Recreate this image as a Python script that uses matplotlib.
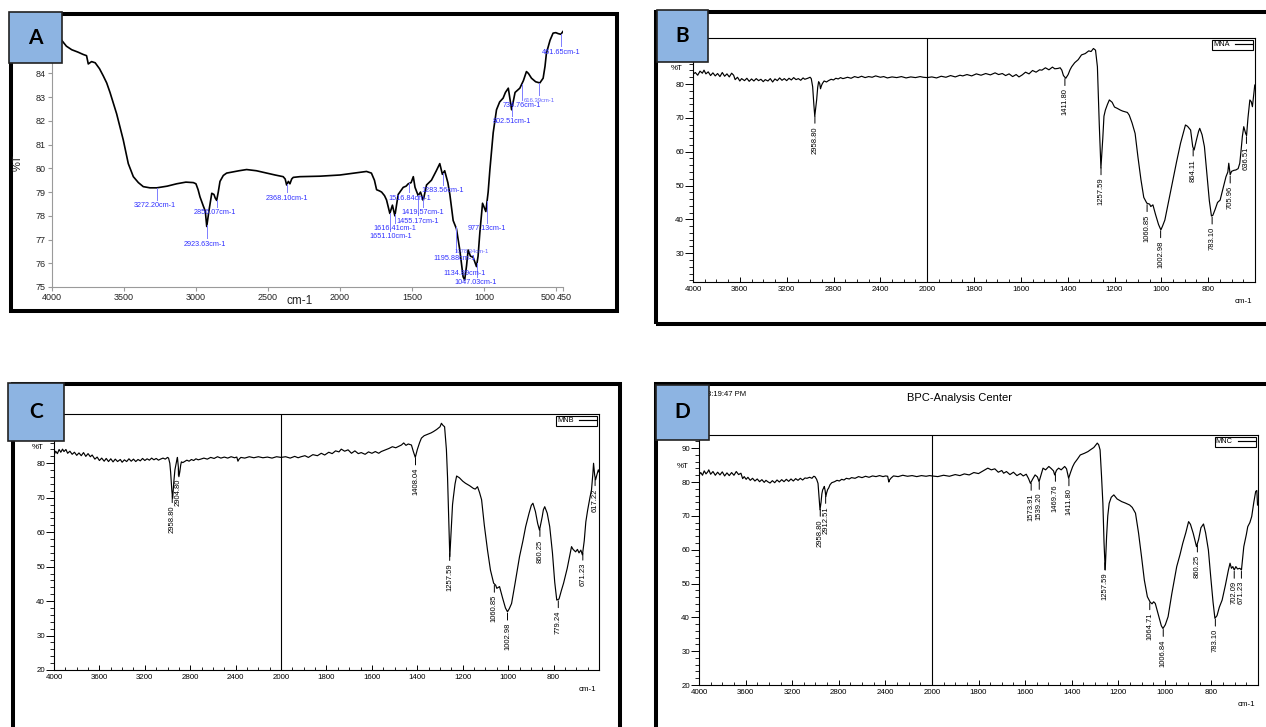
import numpy as np
import matplotlib.pyplot as plt
import matplotlib.transforms as mtransforms
from matplotlib.patches import Rectangle
from matplotlib.ticker import FixedLocator, FuncFormatter

plt.rcParams['font.family'] = ['Liberation Sans', 'DejaVu Sans']

# ---------------- data ----------------
# panel A
a_wn = [4000, 3960, 3933, 3900, 3863, 3820, 3783, 3760, 3748, 3725,
        3700, 3670, 3644, 3620, 3597, 3551, 3505, 3470, 3435, 3400,
        3366, 3320, 3272, 3200, 3134, 3070, 3018, 3000, 2985, 2972,
        2948, 2935, 2925, 2910, 2890, 2875, 2866, 2856, 2845, 2833,
        2810, 2787, 2700, 2648, 2580, 2509, 2450, 2394, 2380, 2370,
        2358, 2347, 2335, 2324, 2278, 2200, 2139, 2000, 1900, 1815,
        1781, 1760, 1745, 1725, 1710, 1690, 1676, 1653, 1635, 1618,
        1595, 1560, 1540, 1525, 1505, 1490, 1478, 1456, 1440, 1421,
        1398, 1364, 1330, 1306, 1288, 1272, 1250, 1236, 1213, 1190,
        1167, 1144, 1133, 1120, 1109, 1093, 1074, 1051, 1040, 1028,
        1009, 986, 970, 958, 935, 912, 890, 866, 850, 830,
        807, 783, 750, 725, 704, 690, 669, 640, 611, 588,
        575, 565, 540, 519, 500, 484, 465, 450]
a_t = [85.8, 85.55, 85.4, 85.15, 85.0, 84.9, 84.8, 84.75, 84.4, 84.5,
       84.45, 84.2, 83.9, 83.6, 83.2, 82.3, 81.2, 80.2, 79.65, 79.4,
       79.23, 79.18, 79.18, 79.25, 79.35, 79.42, 79.4, 79.35, 79.1, 78.8,
       78.4, 78.2, 77.55, 78.2, 78.95, 78.9, 78.75, 78.65, 79.0, 79.45,
       79.7, 79.8, 79.9, 79.95, 79.9, 79.8, 79.72, 79.65, 79.55, 79.3,
       79.45, 79.35, 79.55, 79.62, 79.65, 79.66, 79.67, 79.72, 79.8, 79.87,
       79.8, 79.5, 79.1, 79.05, 79.0, 78.85, 78.67, 78.1, 78.45, 78.0,
       78.9, 79.2, 79.25, 79.35, 79.4, 79.65, 79.2, 78.85, 79.0, 78.65,
       79.3, 79.5, 79.9, 80.2, 79.75, 79.9, 79.4, 78.9, 77.8, 77.45,
       76.56, 75.43, 75.3, 75.9, 76.56, 76.3, 76.25, 75.86, 76.3, 77.27,
       78.53, 78.18, 79.0, 79.94, 81.5, 82.47, 82.8, 82.96, 83.2, 83.38,
       82.47, 83.2, 83.38, 83.7, 84.08, 84.0, 83.8, 83.65, 83.6, 83.8,
       84.3, 84.86, 85.4, 85.7, 85.72, 85.68, 85.65, 85.77]

a_labels = ["3272.20cm-1", "2856.07cm-1", "2923.63cm-1", "2368.10cm-1",
            "1516.84cm-1", "1419.57cm-1", "1455.17cm-1", "1616.41cm-1",
            "1651.10cm-1", "1283.56cm-1", "977.13cm-1", "1078.34cm-1",
            "1195.88cm-1", "1134.89cm-1", "1047.03cm-1", "802.51cm-1",
            "734.76cm-1", "616.39cm-1", "461.65cm-1"]
a_label_wn = [3272.20, 2856.07, 2923.63, 2368.10, 1516.84, 1419.57, 1455.17,
              1616.41, 1651.10, 1283.56, 977.13, 1078.34, 1195.88, 1134.89,
              1047.03, 802.51, 734.76, 616.39, 461.65]
# where each blue label text sits (centre x in cm-1, y in %T)
a_label_tx = [3285, 2868, 2937, 2368, 1514, 1424, 1458, 1618, 1646, 1285,
              979, 1083, 1201, 1132, 1056, 806, 736, 618, 465]
a_label_ty = [78.42, 78.12, 76.81, 78.75, 78.75, 78.12, 77.78, 77.45, 77.11,
              79.05, 77.45, 76.48, 76.22, 75.59, 75.17, 81.96, 82.64, 82.85,
              84.9]

# panel B (MNA)
b_wn = [4000, 3980, 3960, 3940, 3920, 3906, 3890, 3870, 3850, 3830,
        3810, 3790, 3770, 3750, 3730, 3710, 3690, 3670, 3653, 3640,
        3620, 3600, 3585, 3560, 3540, 3520, 3500, 3480, 3460, 3440,
        3420, 3400, 3383, 3360, 3340, 3320, 3300, 3280, 3260, 3240,
        3220, 3200, 3180, 3160, 3140, 3120, 3100, 3080, 3060, 3045,
        3020, 3000, 2990, 2978, 2968, 2960, 2952, 2944, 2935, 2927,
        2918, 2911, 2902, 2894, 2880, 2860, 2843, 2820, 2800, 2780,
        2760, 2740, 2720, 2708, 2680, 2650, 2620, 2590, 2560, 2530,
        2500, 2470, 2440, 2400, 2371, 2340, 2300, 2260, 2220, 2180,
        2140, 2100, 2060, 2034, 2000, 1980, 1960, 1940, 1920, 1900,
        1880, 1860, 1848, 1830, 1810, 1790, 1770, 1750, 1730, 1710,
        1695, 1679, 1665, 1650, 1635, 1620, 1608, 1594, 1580, 1565,
        1550, 1535, 1520, 1510, 1495, 1480, 1465, 1455, 1442, 1432,
        1425, 1418, 1408, 1398, 1390, 1383, 1370, 1355, 1341, 1325,
        1310, 1300, 1290, 1281, 1273, 1265, 1258, 1250, 1245, 1239,
        1230, 1222, 1210, 1200, 1188, 1175, 1165, 1155, 1145, 1137,
        1125, 1112, 1100, 1087, 1075, 1062, 1050, 1045, 1036, 1025,
        1012, 1002, 995, 985, 970, 951, 935, 918, 905, 897,
        888, 875, 866, 860, 850, 841, 836, 826, 816, 805,
        795, 786, 780, 770, 760, 749, 735, 724, 716, 712,
        706, 700, 690, 682, 672, 665, 660, 654, 648, 640,
        636, 630, 622, 616, 611, 606, 601]
b_t = [82.9, 83.4, 82.6, 83.8, 83.2, 84.1, 83.0, 83.6, 82.5, 83.3,
       82.4, 83.1, 82.2, 83.4, 82.3, 83.0, 82.1, 83.2, 82.6, 81.3,
       82.0, 80.9, 81.6, 81.0, 81.7, 80.8, 81.5, 80.9, 81.6, 81.0,
       81.4, 80.7, 81.3, 80.9, 81.6, 80.6, 81.5, 81.0, 81.8, 81.1,
       81.6, 81.0, 81.7, 81.2, 81.9, 81.3, 81.6, 81.1, 81.8, 81.4,
       81.7, 82.0, 81.6, 79.2, 74.0, 70.5, 73.0, 75.3, 79.0, 80.7,
       80.2, 78.6, 79.6, 80.2, 80.9, 80.6, 81.0, 81.4, 81.2, 81.7,
       81.5, 81.9, 81.6, 81.7, 82.0, 81.7, 82.2, 81.9, 82.3, 81.9,
       82.2, 82.0, 82.4, 82.0, 82.2, 81.8, 82.1, 81.9, 82.2, 81.8,
       82.1, 81.9, 82.2, 82.0, 81.9, 82.1, 81.8, 82.3, 82.0, 82.5,
       82.1, 82.6, 82.4, 82.8, 82.4, 83.0, 82.6, 83.1, 82.7, 83.3,
       82.8, 83.1, 82.5, 83.0, 82.2, 82.8, 82.1, 82.7, 83.5, 83.0,
       84.0, 83.5, 84.2, 84.1, 84.8, 84.2, 85.0, 84.5, 84.6, 84.8,
       84.1, 82.5, 81.7, 82.8, 84.2, 85.1, 86.3, 87.2, 88.6, 89.0,
       89.8, 89.6, 90.5, 90.0, 85.1, 68.0, 55.2, 64.0, 70.5, 72.3,
       74.0, 75.3, 74.6, 73.2, 72.8, 72.3, 72.0, 71.8, 71.6, 70.8,
       68.5, 65.4, 58.5, 51.7, 46.5, 44.8, 44.5, 43.8, 44.3, 41.5,
       38.5, 36.9, 38.0, 39.8, 45.0, 51.7, 57.0, 62.5, 65.8, 67.9,
       67.5, 66.4, 61.5, 60.5, 63.5, 66.0, 66.9, 65.0, 61.5, 53.0,
       45.5, 41.0, 41.2, 43.0, 45.0, 45.7, 49.5, 52.6, 54.0, 56.6,
       53.2, 54.2, 54.5, 54.6, 55.0, 56.6, 60.0, 64.5, 67.4, 65.4,
       64.8, 70.0, 75.3, 74.8, 73.3, 76.5, 79.7]
b_peaks = [2958.80, 1411.80, 1257.59, 1060.85, 1002.98, 864.11, 783.10,
           705.96, 636.51]

# panel C (MNB)
c_wn = [4000, 3985, 3970, 3955, 3940, 3925, 3912, 3895, 3880, 3860,
        3840, 3820, 3800, 3780, 3760, 3740, 3720, 3700, 3680, 3664,
        3640, 3620, 3600, 3580, 3558, 3540, 3520, 3500, 3480, 3460,
        3440, 3416, 3400, 3380, 3360, 3340, 3320, 3300, 3280, 3260,
        3240, 3220, 3200, 3180, 3160, 3140, 3120, 3100, 3080, 3062,
        3040, 3020, 3000, 2991, 2980, 2973, 2962, 2955, 2945, 2935,
        2927, 2918, 2913, 2905, 2900, 2892, 2884, 2878, 2865, 2850,
        2830, 2810, 2790, 2770, 2750, 2730, 2708, 2680, 2650, 2620,
        2590, 2560, 2530, 2500, 2470, 2440, 2410, 2390, 2380, 2370,
        2354, 2320, 2280, 2240, 2200, 2160, 2120, 2080, 2040, 2000,
        1980, 1960, 1940, 1925, 1912, 1895, 1880, 1860, 1840, 1823,
        1808, 1790, 1775, 1760, 1745, 1735, 1720, 1705, 1690, 1675,
        1660, 1647, 1630, 1615, 1600, 1585, 1570, 1559, 1540, 1525,
        1510, 1495, 1480, 1470, 1460, 1450, 1440, 1426, 1418, 1409,
        1400, 1390, 1382, 1370, 1355, 1340, 1329, 1315, 1300, 1294,
        1287, 1280, 1272, 1267, 1262, 1257, 1250, 1245, 1241, 1234,
        1227, 1215, 1200, 1188, 1170, 1153, 1145, 1135, 1126, 1117,
        1105, 1091, 1078, 1064, 1055, 1050, 1038, 1025, 1012, 1003,
        995, 985, 970, 950, 935, 923, 908, 898, 891, 880,
        870, 862, 850, 845, 839, 828, 817, 805, 795, 786,
        776, 766, 756, 740, 728, 721, 714, 703, 695, 688,
        680, 673, 665, 658, 650, 640, 633, 627, 624, 619,
        615, 610, 603, 600]
c_t = [82.4, 83.5, 82.8, 84.0, 83.2, 84.1, 83.4, 84.0, 82.9, 83.5,
       82.6, 83.2, 82.3, 83.0, 82.2, 83.1, 82.0, 82.8, 81.9, 82.4,
       81.2, 81.8, 80.8, 81.5, 80.6, 81.4, 80.5, 81.3, 80.4, 81.2,
       80.5, 81.1, 80.3, 81.0, 80.5, 81.3, 80.6, 81.2, 80.5, 81.1,
       80.7, 81.4, 80.8, 81.3, 80.9, 81.5, 81.0, 81.4, 80.9, 81.2,
       81.5, 81.2, 81.7, 81.5, 80.0, 77.5, 72.0, 69.8, 74.5, 78.1,
       79.5, 81.0, 81.7, 79.0, 76.1, 77.5, 79.5, 80.4, 80.2, 80.5,
       80.9, 80.6, 81.1, 80.8, 81.3, 81.0, 81.2, 81.5, 81.2, 81.7,
       81.4, 81.9, 81.5, 81.8, 81.5, 81.9, 81.6, 81.8, 80.6, 81.2,
       81.7, 81.5, 81.9, 81.6, 81.9, 81.6, 81.8, 81.5, 81.9, 81.7,
       81.9, 81.5, 82.0, 81.6, 81.9, 82.2, 81.7, 82.5, 82.2, 82.9,
       82.4, 83.2, 82.8, 83.6, 83.3, 84.1, 83.5, 83.9, 82.9, 83.6,
       82.8, 83.1, 82.6, 83.3, 82.9, 83.4, 82.9, 83.4, 83.9, 84.3,
       84.8, 84.5, 85.0, 85.3, 85.9, 85.2, 85.6, 85.3, 83.5, 81.7,
       84.0, 86.0, 87.3, 88.0, 88.4, 88.8, 89.2, 89.8, 90.6, 91.6,
       91.0, 90.6, 84.0, 76.0, 64.0, 52.9, 62.0, 68.0, 70.3, 74.0,
       76.3, 75.8, 74.8, 74.2, 73.5, 72.7, 72.5, 73.2, 71.5, 69.4,
       62.0, 54.8, 49.0, 45.2, 44.6, 43.7, 44.2, 41.0, 38.0, 36.9,
       37.8, 39.3, 45.0, 52.9, 57.5, 61.6, 65.5, 67.8, 68.4, 66.0,
       62.5, 60.6, 64.5, 66.5, 67.4, 65.5, 61.6, 54.0, 45.5, 40.3,
       40.6, 43.0, 45.2, 49.5, 53.5, 55.8, 55.0, 54.3, 55.0, 54.0,
       54.8, 53.4, 57.5, 63.0, 66.4, 70.0, 72.3, 77.0, 80.0, 76.5,
       75.2, 76.5, 78.1, 77.5]
c_peaks = [2958.80, 2904.80, 1408.04, 1257.59, 1060.85, 1002.98, 860.25,
           779.24, 671.23, 617.22]

# panel D (MNC)
d_wn = [4000, 3985, 3970, 3955, 3940, 3925, 3916, 3900, 3880, 3860,
        3840, 3820, 3800, 3780, 3760, 3740, 3720, 3700, 3680, 3660,
        3640, 3625, 3612, 3595, 3580, 3560, 3540, 3520, 3500, 3480,
        3460, 3440, 3425, 3410, 3390, 3370, 3350, 3330, 3310, 3290,
        3270, 3250, 3230, 3210, 3190, 3170, 3150, 3130, 3110, 3090,
        3073, 3050, 3030, 3015, 3005, 2990, 2978, 2968, 2961, 2952,
        2945, 2938, 2930, 2924, 2917, 2911, 2904, 2895, 2887, 2875,
        2860, 2836, 2815, 2795, 2775, 2755, 2735, 2710, 2690, 2660,
        2630, 2600, 2570, 2540, 2510, 2480, 2450, 2420, 2398, 2380,
        2370, 2364, 2350, 2330, 2290, 2250, 2210, 2170, 2130, 2090,
        2050, 2020, 2000, 1975, 1950, 1925, 1900, 1880, 1861, 1840,
        1820, 1800, 1780, 1770, 1760, 1745, 1730, 1715, 1700, 1692,
        1680, 1665, 1650, 1635, 1620, 1608, 1595, 1585, 1577, 1568,
        1557, 1547, 1540, 1532, 1523, 1512, 1498, 1488, 1478, 1473,
        1465, 1456, 1445, 1430, 1422, 1413, 1405, 1396, 1388, 1375,
        1363, 1345, 1330, 1320, 1305, 1290, 1284, 1278, 1272, 1266,
        1261, 1256, 1250, 1245, 1239, 1230, 1219, 1205, 1185, 1170,
        1151, 1140, 1126, 1113, 1100, 1088, 1075, 1063, 1055, 1048,
        1041, 1025, 1015, 1008, 998, 986, 970, 949, 935, 923,
        910, 898, 890, 878, 870, 864, 855, 845, 834, 825,
        813, 803, 793, 785, 776, 766, 754, 740, 727, 720,
        714, 708, 702, 695, 688, 678, 671, 661, 650, 644,
        635, 627, 618, 610, 605, 602]
d_t = [82.1, 82.8, 82.0, 83.3, 82.4, 83.0, 83.6, 82.3, 83.1, 82.0,
       82.9, 82.1, 83.0, 81.8, 82.7, 81.9, 82.8, 82.0, 83.1, 82.2,
       82.6, 81.0, 81.6, 80.8, 81.4, 80.5, 81.1, 80.3, 80.9, 80.1,
       80.7, 79.9, 80.5, 80.1, 79.7, 80.4, 79.8, 80.6, 80.0, 80.7,
       80.1, 80.8, 80.2, 80.9, 80.3, 81.0, 80.5, 81.1, 80.6, 81.2,
       81.1, 81.4, 81.1, 81.7, 81.6, 80.8, 79.6, 75.0, 71.8, 74.0,
       76.5, 77.7, 78.2, 78.7, 77.5, 75.7, 76.8, 77.8, 78.2, 79.2,
       79.8, 80.1, 80.5, 80.3, 80.8, 80.6, 81.1, 80.9, 81.3, 81.1,
       81.6, 81.3, 81.7, 81.4, 81.8, 81.6, 81.9, 81.6, 81.8, 81.7,
       80.0, 80.6, 81.2, 81.8, 81.6, 82.0, 81.7, 81.9, 81.6, 81.9,
       81.7, 81.9, 81.8, 81.6, 82.0, 81.7, 82.2, 81.9, 82.4, 82.1,
       82.8, 82.5, 83.3, 83.7, 84.1, 83.6, 83.9, 82.9, 83.4, 82.6,
       83.1, 82.2, 82.9, 81.9, 82.5, 81.8, 82.3, 81.0, 79.6, 80.8,
       82.1, 81.5, 80.1, 82.0, 84.1, 83.6, 84.6, 84.0, 83.3, 82.1,
       83.5, 84.1, 83.6, 84.6, 83.9, 81.1, 82.8, 84.5, 85.6, 86.8,
       88.0, 88.5, 89.0, 89.5, 90.2, 91.5, 91.0, 89.5, 82.0, 73.7,
       62.0, 54.0, 64.0, 70.0, 73.7, 75.5, 76.2, 75.0, 74.2, 73.8,
       73.2, 72.5, 70.8, 65.0, 57.9, 51.0, 46.1, 44.5, 44.0, 44.6,
       44.1, 40.0, 37.5, 36.7, 37.8, 40.2, 47.0, 55.0, 58.5, 61.9,
       65.0, 68.3, 67.5, 64.8, 62.5, 60.9, 63.0, 66.5, 67.6, 65.0,
       59.9, 52.0, 44.5, 39.7, 40.5, 43.0, 45.1, 49.5, 54.0, 56.0,
       54.5, 55.0, 54.0, 55.0, 54.3, 54.5, 54.0, 60.9, 64.5, 66.8,
       68.0, 69.8, 74.0, 77.2, 77.5, 73.2]
d_peaks = [2958.80, 2912.51, 1573.91, 1539.20, 1469.76, 1411.80, 1257.59,
           1064.71, 1006.84, 860.25, 783.10, 702.09, 671.23]

# ---------------- layout helpers ----------------
W, H = 1266, 727
fig = plt.figure(figsize=(W / 100, H / 100), dpi=100)


def px_rect(x0, y0, x1, y1):
    return [x0 / W, 1 - y1 / H, (x1 - x0) / W, (y1 - y0) / H]


def frame(x0, y0, x1, y1, **kw):
    r = Rectangle((x0 / W, 1 - y1 / H), (x1 - x0) / W, (y1 - y0) / H,
                  transform=fig.transFigure, **kw)
    fig.add_artist(r)


def badge(x0, y0, x1, y1, letter):
    frame(x0, y0, x1, y1, facecolor="#8DB4E2", edgecolor="#222222",
          lw=1.2, zorder=20)
    fig.text((x0 + x1) / 2 / W, 1 - (y0 + y1) / 2 / H, letter,
             ha="center", va="center", fontsize=15, fontweight="bold",
             family=["Lato", "DejaVu Sans"], zorder=21)


# FTIR software style axis: 4000-2000 compressed, 2000-600 expanded
def split_fwd(x):
    x = np.asarray(x, dtype=float)
    return np.where(x >= 2000, 1000 + x / 2, x)


def split_inv(u):
    u = np.asarray(u, dtype=float)
    return np.where(u >= 2000, (u - 1000) * 2, u)


def spectrum_panel(rect, wn, t, ylim, name, peaks):
    ax = fig.add_axes(px_rect(*rect))
    ax.set_xscale("function", functions=(split_fwd, split_inv))
    ax.plot(wn, t, color="black", lw=0.85, label=name)
    ax.axvline(2000, color="black", lw=0.8)
    ax.set_xlim(4000, 600)
    ax.set_ylim(*ylim)

    ax.xaxis.set_major_locator(FixedLocator([4000, 3600, 3200, 2800, 2400, 2000,
                                             1800, 1600, 1400, 1200, 1000, 800]))
    ax.xaxis.set_minor_locator(FixedLocator(list(np.arange(2100, 4000, 100)) +
                                            list(np.arange(650, 2000, 50))))
    ax.xaxis.set_major_formatter(FuncFormatter(lambda v, p: f"{v:.0f}"))
    ax.xaxis.set_minor_formatter(FuncFormatter(lambda v, p: ""))
    ax.yaxis.set_major_locator(FixedLocator(np.arange(20, 91, 10)))
    ax.yaxis.set_minor_locator(FixedLocator(np.arange(20, 93, 2)))

    ax.tick_params(axis="x", which="both", direction="in", labelsize=5.7, pad=3)
    ax.tick_params(axis="x", which="major", length=3.5, width=0.7)
    ax.tick_params(axis="x", which="minor", length=2, width=0.6)
    ax.tick_params(axis="y", which="both", direction="out", labelsize=5.7, pad=1)
    ax.tick_params(axis="y", which="major", length=5.5, width=0.7)
    ax.tick_params(axis="y", which="minor", length=3, width=0.6)
    for sp in ax.spines.values():
        sp.set_linewidth(0.8)

    trans = mtransforms.blended_transform_factory(ax.transAxes, ax.transData)
    ax.annotate("%T", xy=(0, 84.7), xycoords=trans, xytext=(-12, 0),
                textcoords="offset points", ha="center", va="center", fontsize=5.7)
    ax.annotate("cm-1", xy=(1, 0), xycoords="axes fraction", xytext=(-2, -14),
                textcoords="offset points", ha="right", va="center", fontsize=5.7)

    leg = ax.legend(loc="upper right", markerfirst=False, fontsize=5.3,
                    handlelength=2.2, handletextpad=0.8, borderpad=0.15,
                    borderaxespad=0.3, fancybox=False, framealpha=1,
                    edgecolor="black")
    leg.get_frame().set_linewidth(0.8)

    wn_up, t_up = np.asarray(wn)[::-1], np.asarray(t)[::-1]
    for p in peaks:
        y = np.interp(p, wn_up, t_up)
        ax.annotate(f"{p:.2f}", xy=(p, y), xytext=(0, -8), textcoords="offset points",
                    rotation=90, ha="center", va="top", fontsize=5.5,
                    arrowprops=dict(arrowstyle="-", lw=0.7, color="black",
                                    shrinkA=0, shrinkB=1))
    return ax


# ---------------- panel frames ----------------
frame(11, 14, 617, 311, fill=False, lw=2.9, edgecolor="black")
frame(656, 12, 1300, 324, fill=False, lw=2.9, edgecolor="black")
frame(13, 384, 620, 760, fill=False, lw=2.9, edgecolor="black")
frame(656, 384, 1300, 760, fill=False, lw=2.9, edgecolor="black")

# ---------------- panel A ----------------
ax_a = fig.add_axes(px_rect(52, 26, 563, 287))
ax_a.plot(a_wn, a_t, color="black", lw=1.2)
ax_a.set_xlim(4000, 450)
ax_a.set_ylim(75, 86)
ax_a.set_yticks(np.arange(75, 85, 1))
ax_a.set_xticks([4000, 3500, 3000, 2500, 2000, 1500, 1000, 500, 450])
ax_a.spines["top"].set_visible(False)
ax_a.spines["right"].set_visible(False)
for s in ("left", "bottom"):
    ax_a.spines[s].set_color("#9a9a9a")
    ax_a.spines[s].set_linewidth(0.8)
ax_a.tick_params(which="both", direction="out", length=3, color="#9a9a9a",
                 labelsize=6.5, labelcolor="#222222", pad=1.5)
# "500" and "450" run together as "500450" in the original
xt_labels = ax_a.get_xticklabels()
xt_labels[-2].set_ha("right")
xt_labels[-1].set_ha("left")
xt_labels[-1].set_transform(xt_labels[-1].get_transform() +
                            mtransforms.ScaledTranslation(-6 / 100, 0,
                                                          fig.dpi_scale_trans))

a_up_wn, a_up_t = np.asarray(a_wn)[::-1], np.asarray(a_t)[::-1]
for lab, lw_, tx, ty in zip(a_labels, a_label_wn, a_label_tx, a_label_ty):
    yc = np.interp(lw_, a_up_wn, a_up_t)
    end = ty + 0.25 if ty < yc else ty - 0.25
    ax_a.plot([lw_, lw_], [yc, end], color="#7d7dff", lw=0.7)
    small = lab in ("1078.34cm-1", "616.39cm-1")
    ax_a.text(tx, ty, lab, ha="center", va="center", color="#3030ff",
              fontsize=4.2 if small else 5.2, alpha=0.75 if small else 1)

fig.text(18 / W, 1 - 163 / H, "%T", rotation=90, ha="center", va="center",
         fontsize=8, color="#222222")
fig.text(300 / W, 1 - 301 / H, "cm-1", ha="center", va="center",
         fontsize=8.5, color="#222222")

# ---------------- panels B, C, D ----------------
spectrum_panel((693, 38, 1255, 282), b_wn, b_t, (21.5, 93.6), "MNA", b_peaks)
spectrum_panel((54, 414, 599, 670), c_wn, c_t, (20, 94.3), "MNB", c_peaks)
spectrum_panel((699, 435, 1258, 685), d_wn, d_t, (20, 93.9), "MNC", d_peaks)

fig.text(960 / W, 1 - 398 / H, "BPC-Analysis Center", ha="center", va="center",
         fontsize=8)
fig.text(707 / W, 1 - 395 / H, "3:19:47 PM", ha="left", va="center",
         fontsize=5.5)

# ---------------- letter badges ----------------
badge(9, 12, 62, 63, "A")
badge(657, 10, 708, 62, "B")
badge(8, 383, 64, 441, "C")
badge(656, 385, 709, 440, "D")

fig.savefig("out.png", dpi=100)
